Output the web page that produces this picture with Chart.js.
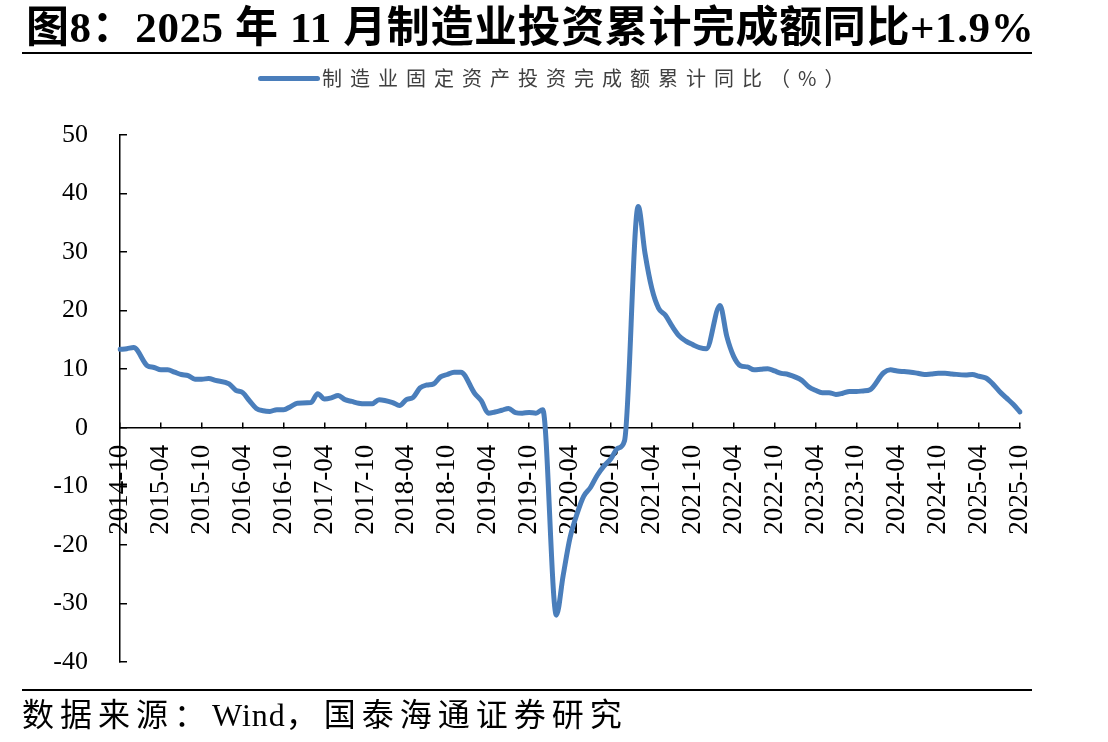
<!DOCTYPE html>
<html>
<head>
<meta charset="utf-8">
<script src="https://cdn.jsdelivr.net/npm/chart.js@4.4.1/dist/chart.umd.min.js"></script>
<style>
html,body{margin:0;padding:0;background:#fff;}
#wrap{position:relative;width:1108px;height:742px;overflow:hidden;background:#fff;}
#title{position:absolute;left:26px;top:2px;font-weight:bold;font-size:43px;letter-spacing:0.6px;font-family:"Liberation Serif","Noto Sans CJK SC",serif;white-space:nowrap;color:#000;line-height:52px;}
#rule1{position:absolute;left:22px;top:52px;width:1010px;height:2px;background:#000;}
#legend{position:absolute;left:258px;top:63px;height:30px;white-space:nowrap;}
#legend .sw{position:absolute;left:0;top:13px;width:62px;height:5px;background:#4a7ebb;border-radius:3px;}
#legend .tx{position:absolute;left:64px;top:0;font-size:20px;line-height:30px;letter-spacing:8px;color:#404040;font-family:"Noto Sans CJK SC",sans-serif;}
#rule2{position:absolute;left:22px;top:689px;width:1010px;height:2px;background:#000;}
#source{position:absolute;left:22px;top:694px;font-size:32px;line-height:42px;letter-spacing:6px;font-family:"Liberation Serif","Noto Sans CJK SC",serif;color:#000;white-space:nowrap;}
#source .en{letter-spacing:1px;}
canvas{position:absolute;left:0;top:0;}
</style>
</head>
<body>
<div id="wrap">
  <canvas id="c" width="1108" height="742"></canvas>
  <div id="title">图8：2025 年 11 月制造业投资累计完成额同比+1.9%</div>
  <div id="rule1"></div>
  <div id="legend"><span class="sw"></span><span class="tx">制造业固定资产投资完成额累计同比（%）</span></div>
  <div id="rule2"></div>
  <div id="source">数据来源：<span class="en">Wind</span>，国泰海通证券研究</div>
</div>
<script>
// Monthly cumulative YoY (%), January not published (null)
const v2014 = [13.4, 13.5, 13.7]; // Oct-Dec
const v2015 = [null, 10.6, 10.3, 9.9, 9.9, 9.5, 9.1, 8.9, 8.3, 8.3, 8.4, 8.1];
const v2016 = [null, 7.5, 6.4, 6.0, 4.6, 3.3, 2.9, 2.8, 3.1, 3.1, 3.6, 4.2];
const v2017 = [null, 4.3, 5.8, 4.9, 5.1, 5.5, 4.8, 4.5, 4.2, 4.1, 4.1, 4.8];
const v2018 = [null, 4.3, 3.8, 4.8, 5.2, 6.8, 7.3, 7.5, 8.7, 9.1, 9.5, 9.5];
const v2019 = [null, 5.9, 4.6, 2.5, 2.7, 3.0, 3.3, 2.6, 2.5, 2.6, 2.5, 3.1];
const v2020 = [null, -32.0, -25.2, -18.8, -14.8, -11.7, -10.2, -8.1, -6.5, -5.3, -3.5, -2.2];
const v2021 = [null, 37.8, 29.8, 23.8, 20.4, 19.2, 17.3, 15.7, 14.8, 14.2, 13.7, 13.5];
const v2022 = [null, 20.9, 15.6, 12.2, 10.6, 10.4, 9.9, 10.0, 10.1, 9.7, 9.3, 9.1];
const v2023 = [null, 8.1, 7.0, 6.4, 6.0, 6.0, 5.7, 5.9, 6.2, 6.2, 6.3, 6.5];
const v2024 = [null, 9.4, 9.9, 9.7, 9.6, 9.5, 9.3, 9.1, 9.2, 9.3, 9.3, 9.2];
const v2025 = [null, 9.0, 9.1, 8.8, 8.5, 7.5, 6.2, 5.1, 4.0, 2.7]; // Jan-Oct

const tickLabels = ['2014-10','2015-04','2015-10','2016-04','2016-10','2017-04','2017-10','2018-04','2018-10','2019-04','2019-10','2020-04','2020-10','2021-04','2021-10','2022-04','2022-10','2023-04','2023-10','2024-04','2024-10','2025-04','2025-10'];
const yTicks = [-40, -30, -20, -10, 0, 10, 20, 30, 40, 50];
const seriesName = '制造业固定资产投资完成额累计同比（%）';

const values = [].concat(v2014, v2015, v2016, v2017, v2018, v2019, v2020, v2021, v2022, v2023, v2024, v2025);
// month categories 2014-10 ... 2025-10
const months = [];
for (let y = 2014, m = 10; months.length < values.length; ) {
  months.push(y + '-' + String(m).padStart(2, '0'));
  m++; if (m > 12) { m = 1; y++; }
}

const serif = '"Liberation Serif", "Times New Roman", serif';

new Chart(document.getElementById('c'), {
  type: 'line',
  data: {
    labels: months,
    datasets: [{
      label: seriesName,
      data: values,
      borderColor: '#4a7ebb',
      borderWidth: 5,
      pointRadius: 0,
      spanGaps: true,
      cubicInterpolationMode: 'monotone',
      borderCapStyle: 'round',
      borderJoinStyle: 'round',
      fill: false
    }]
  },
  options: {
    responsive: false,
    devicePixelRatio: 1,
    animation: false,
    layout: { padding: { left: 0, right: 88, top: 135, bottom: 80 } },
    plugins: { legend: { display: false }, tooltip: { enabled: false } },
    scales: {
      x: {
        type: 'category',
        position: { y: 0 },
        offset: false,
        grid: {
          display: true,
          drawOnChartArea: false,
          tickLength: -6,
          lineWidth: 1.5,
          color: (ctx) => (tickLabels.includes(months[ctx.index]) ? '#000' : 'rgba(0,0,0,0)')
        },
        border: { display: true, color: '#000', width: 1.5 },
        ticks: {
          autoSkip: false,
          minRotation: 90,
          maxRotation: 90,
          padding: 23,
          color: '#000',
          font: { family: serif, size: 27 },
          callback: function (val, idx) {
            const l = months[idx];
            return tickLabels.includes(l) ? l : '';
          }
        }
      },
      y: {
        min: -40,
        max: 50,
        afterFit: (s) => { s.width = 120; },
        afterBuildTicks: (s) => { s.ticks = yTicks.map(v => ({ value: v })); },
        grid: {
          display: true,
          drawOnChartArea: false,
          tickLength: -7,
          lineWidth: 1.5,
          color: '#000'
        },
        border: { display: true, color: '#000', width: 1.5 },
        ticks: {
          padding: 39,
          color: '#000',
          font: { family: serif, size: 26 }
        }
      }
    }
  }
});
</script>
</body>
</html>
